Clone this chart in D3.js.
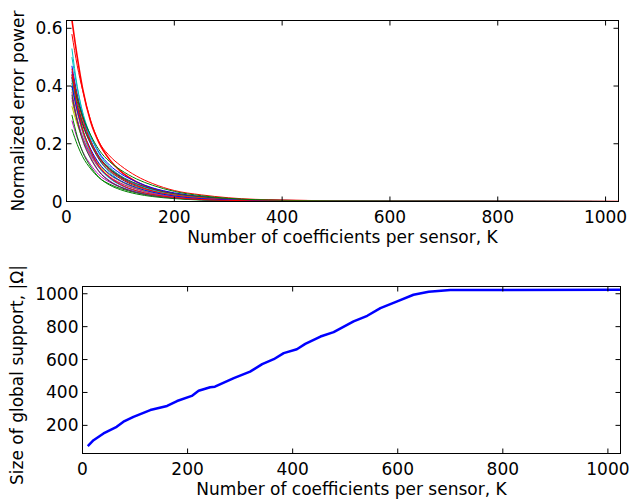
<!DOCTYPE html>
<html>
<head>
<meta charset="utf-8">
<script src="https://cdn.jsdelivr.net/npm/d3@7"></script>
<style>
  body { margin: 0; background: #fff; }
  svg { display: block; }
  text { font-family: 'DejaVu Sans', sans-serif; fill: #000; }
</style>
</head>
<body>
<div id="chart"></div>
<script>
// coefficient grid shared by the error curves
const errorK = [10, 20, 30, 45, 60, 80, 100, 130, 160, 200, 250, 300, 400, 600, 1024]

// one row per sensor
const errorCurves = [
  [0.47, 0.369, 0.291, 0.212, 0.157, 0.112, 0.084, 0.056, 0.037, 0.023, 0.012, 0.007, 0.002, 0.0005, 0],
  [0.40, 0.324, 0.264, 0.200, 0.152, 0.112, 0.086, 0.060, 0.042, 0.026, 0.015, 0.008, 0.003, 0.001, 0],
  [0.63, 0.500, 0.390, 0.275, 0.205, 0.145, 0.105, 0.068, 0.045, 0.027, 0.015, 0.008, 0.003, 0.0005, 0],
  [0.53, 0.398, 0.302, 0.212, 0.148, 0.101, 0.072, 0.045, 0.029, 0.017, 0.009, 0.005, 0.002, 0.0003, 0],
  [0.28, 0.220, 0.173, 0.127, 0.093, 0.067, 0.050, 0.033, 0.022, 0.013, 0.007, 0.004, 0.001, 0.0003, 0],
  [0.35, 0.275, 0.217, 0.158, 0.117, 0.083, 0.063, 0.042, 0.028, 0.017, 0.009, 0.005, 0.002, 0.0004, 0],
  [0.44, 0.346, 0.272, 0.199, 0.147, 0.105, 0.079, 0.052, 0.035, 0.021, 0.011, 0.006, 0.002, 0.0004, 0],
  [0.45, 0.365, 0.297, 0.225, 0.171, 0.126, 0.097, 0.068, 0.047, 0.030, 0.017, 0.009, 0.004, 0.001, 0],
  [0.25, 0.197, 0.155, 0.113, 0.083, 0.060, 0.045, 0.030, 0.020, 0.012, 0.007, 0.004, 0.001, 0.0003, 0],
  [0.58, 0.470, 0.385, 0.280, 0.208, 0.158, 0.125, 0.088, 0.062, 0.038, 0.023, 0.013, 0.005, 0.001, 0],
  [0.50, 0.393, 0.310, 0.226, 0.167, 0.119, 0.090, 0.060, 0.040, 0.024, 0.013, 0.007, 0.003, 0.0005, 0],
  [0.38, 0.285, 0.217, 0.152, 0.106, 0.072, 0.051, 0.032, 0.021, 0.012, 0.006, 0.003, 0.001, 0.0002, 0],
  [0.33, 0.267, 0.218, 0.165, 0.125, 0.092, 0.071, 0.050, 0.035, 0.022, 0.013, 0.007, 0.003, 0.001, 0],
  [0.41, 0.332, 0.271, 0.205, 0.156, 0.115, 0.088, 0.062, 0.043, 0.027, 0.016, 0.009, 0.003, 0.001, 0],
  [0.43, 0.323, 0.245, 0.172, 0.120, 0.082, 0.058, 0.037, 0.024, 0.014, 0.007, 0.004, 0.001, 0.0002, 0],
  [0.30, 0.225, 0.171, 0.120, 0.084, 0.057, 0.041, 0.026, 0.017, 0.010, 0.005, 0.003, 0.001, 0.0002, 0],
  [0.46, 0.362, 0.285, 0.208, 0.153, 0.109, 0.082, 0.055, 0.036, 0.022, 0.012, 0.006, 0.002, 0.0005, 0],
  [0.42, 0.315, 0.239, 0.168, 0.118, 0.080, 0.057, 0.036, 0.023, 0.013, 0.007, 0.004, 0.001, 0.0002, 0],
  [0.36, 0.283, 0.223, 0.163, 0.120, 0.086, 0.064, 0.043, 0.028, 0.017, 0.009, 0.005, 0.002, 0.0004, 0],
  [0.39, 0.307, 0.241, 0.176, 0.130, 0.093, 0.070, 0.046, 0.031, 0.019, 0.010, 0.005, 0.002, 0.0004, 0],
  [0.37, 0.278, 0.211, 0.148, 0.104, 0.070, 0.050, 0.031, 0.020, 0.012, 0.006, 0.003, 0.001, 0.0002, 0],
  [0.40, 0.314, 0.248, 0.181, 0.133, 0.095, 0.072, 0.048, 0.032, 0.019, 0.010, 0.006, 0.002, 0.0004, 0],
  [0.43, 0.355, 0.295, 0.230, 0.180, 0.138, 0.110, 0.078, 0.056, 0.035, 0.020, 0.011, 0.004, 0.001, 0],
  [0.44, 0.330, 0.251, 0.176, 0.123, 0.084, 0.059, 0.037, 0.024, 0.014, 0.007, 0.004, 0.001, 0.0002, 0]
]

// matlab default color order
const curveColors = ['#0000ff', '#008000', '#ff0000', '#00bfbf', '#bf00bf', '#bfbf00', '#404040']

// bottom panel: size of global support vs K
const supportK = [10, 21, 40, 65, 78, 97, 129, 161, 180, 208, 221, 243, 252, 288, 319, 342, 364, 383, 408,
  424, 453, 478, 516, 542, 567, 599, 630, 659, 700, 1024]
const supportSize = [74, 110, 151, 191, 222, 252, 293, 318, 348, 379, 410, 432, 435, 487, 527, 572, 602, 639, 663,
  695, 740, 767, 832, 866, 913, 954, 994, 1012, 1022, 1024]

const xTicks = [0, 200, 400, 600, 800, 1000]
const errorTicks = [0, 0.2, 0.4, 0.6]
const supportTicks = [200, 400, 600, 800, 1000]

const xLabel = 'Number of coefficients per sensor, K'
const errorLabel = 'Normalized error power'
const supportLabel = 'Size of global support, |Ω|'

const dimensions = { width: 629, height: 502 }
const fontSize = '17px'

const svg = d3.select('#chart')
  .append('svg')
  .attr('width', dimensions.width)
  .attr('height', dimensions.height)

const tickLen = 5

const drawFrame = (x, y, yTickValues, yFormat) => {
  const [x0, x1] = x.range()
  const [y0, y1] = y.range()
  const g = svg.append('g')

  g.append('rect')
    .attr('x', x0).attr('y', y1)
    .attr('width', x1 - x0).attr('height', y0 - y1)
    .attr('fill', 'none').attr('stroke', '#000').attr('stroke-width', 1)

  const xt = xTicks.filter(d => d > x.domain()[0])
  g.selectAll('.xtb').data(xt).join('line')
    .attr('x1', d => x(d)).attr('x2', d => x(d))
    .attr('y1', y0).attr('y2', y0 - tickLen)
    .attr('stroke', '#000')
  g.selectAll('.xtt').data(xt).join('line')
    .attr('x1', d => x(d)).attr('x2', d => x(d))
    .attr('y1', y1).attr('y2', y1 + tickLen)
    .attr('stroke', '#000')

  const yt = yTickValues.filter(d => d > y.domain()[0])
  g.selectAll('.ytl').data(yt).join('line')
    .attr('x1', x0).attr('x2', x0 + tickLen)
    .attr('y1', d => y(d)).attr('y2', d => y(d))
    .attr('stroke', '#000')
  g.selectAll('.ytr').data(yt).join('line')
    .attr('x1', x1).attr('x2', x1 - tickLen)
    .attr('y1', d => y(d)).attr('y2', d => y(d))
    .attr('stroke', '#000')

  g.selectAll('.xl').data(xTicks).join('text')
    .attr('x', d => x(d))
    .attr('y', y0 + 21.5)
    .attr('text-anchor', 'middle')
    .style('font-size', fontSize)
    .text(d => d)

  g.selectAll('.yl').data(yTickValues).join('text')
    .attr('x', x0 - 4)
    .attr('y', d => y(d) + 6)
    .attr('text-anchor', 'end')
    .style('font-size', fontSize)
    .text(yFormat)

  return g
}

// top panel
const xTop = d3.scaleLinear().domain([0, 1024]).range([66.5, 618.5])
const yTop = d3.scaleLinear().domain([0, 0.627]).range([201.5, 20.5])

svg.append('clipPath').attr('id', 'clipTop')
  .append('rect')
  .attr('x', 66.5).attr('y', 20.5)
  .attr('width', 552).attr('height', 181)

const errorLine = d3.line()
  .x((d, i) => xTop(errorK[i]))
  .y(d => yTop(d))
  .curve(d3.curveMonotoneX)

svg.append('g')
  .attr('clip-path', 'url(#clipTop)')
  .selectAll('path')
  .data(errorCurves)
  .join('path')
  .attr('d', errorLine)
  .attr('fill', 'none')
  .attr('stroke', (d, i) => curveColors[i % curveColors.length])
  .attr('stroke-width', (d, i) => i === 2 ? 1.6 : 1)

drawFrame(xTop, yTop, errorTicks, d => d)

svg.append('text')
  .attr('x', xTop(512))
  .attr('y', 243)
  .attr('text-anchor', 'middle')
  .style('font-size', fontSize)
  .text(xLabel)

svg.append('text')
  .attr('transform', `translate(24, ${(20.5 + 201.5) / 2}) rotate(-90)`)
  .attr('text-anchor', 'middle')
  .style('font-size', fontSize)
  .text(errorLabel)

// bottom panel
const xBot = d3.scaleLinear().domain([0, 1024]).range([82.5, 620.5])
const yBot = d3.scaleLinear().domain([29, 1044]).range([453.5, 286.5])

const supportLine = d3.line()
  .x((d, i) => xBot(supportK[i]))
  .y(d => yBot(d))

svg.append('path')
  .datum(supportSize)
  .attr('d', supportLine)
  .attr('fill', 'none')
  .attr('stroke', '#0000ff')
  .attr('stroke-width', 2.5)
  .attr('stroke-linejoin', 'round')

drawFrame(xBot, yBot, supportTicks, d => d)

svg.append('text')
  .attr('x', xBot(512))
  .attr('y', 495)
  .attr('text-anchor', 'middle')
  .style('font-size', fontSize)
  .text(xLabel)

svg.append('text')
  .attr('transform', `translate(23, 375) rotate(-90)`)
  .attr('text-anchor', 'middle')
  .style('font-size', fontSize)
  .text(supportLabel)
</script>
</body>
</html>
